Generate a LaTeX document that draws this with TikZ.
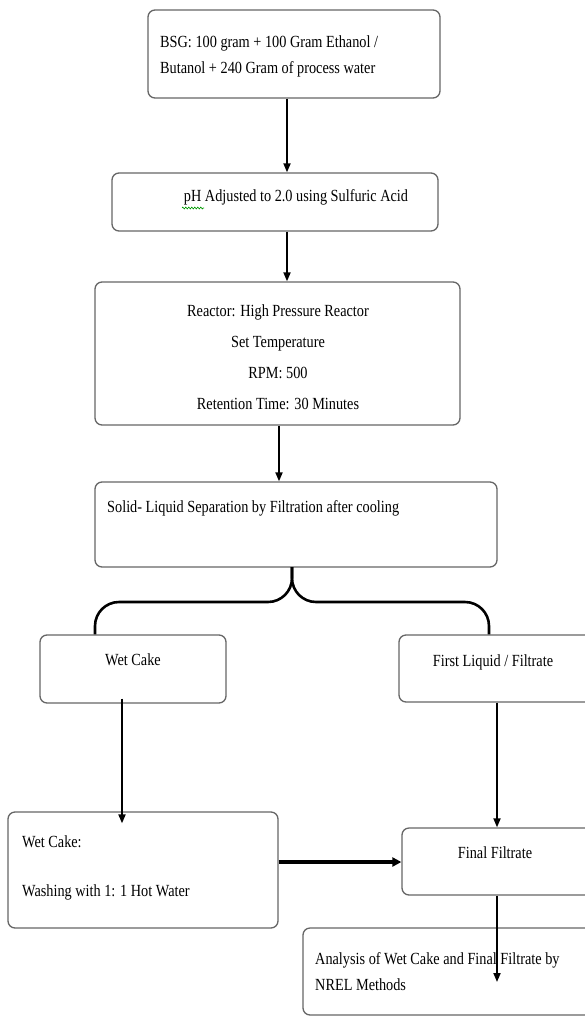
\documentclass[tikz,border=0pt]{standalone}
\usepackage{fontspec}
\setmainfont{Liberation Serif}[FakeStretch=0.84]
\usetikzlibrary{arrows.meta,decorations.pathmorphing}
\begin{document}
\begin{tikzpicture}[x=1pt,y=-1pt,
  box/.style={draw=black!60,line width=1.3pt,rounded corners=7pt,fill=white,inner sep=0pt},
  txt/.style={inner sep=0pt,font=\fontsize{17}{26}\selectfont,align=left},
  ctxt/.style={inner sep=0pt,font=\fontsize{17}{31}\selectfont,align=center},
  arr/.style={line width=1.8pt,-{Triangle[length=9pt,width=7pt]}},
  brace/.style={line width=2.6pt,rounded corners=24pt}
]
\useasboundingbox (0,0) rectangle (584,1017);
% boxes
\node[box,minimum width=292pt,minimum height=88pt] (b1) at (294,54) {};
\node[box,minimum width=326pt,minimum height=58pt] (b2) at (275,202) {};
\node[box,minimum width=365pt,minimum height=143pt] (b3) at (277.5,353.5) {};
\node[box,minimum width=402pt,minimum height=85pt] (b4) at (296,524.5) {};
\node[box,minimum width=186pt,minimum height=68pt] (b5) at (133,669) {};
\node[box,minimum width=193pt,minimum height=67pt] (b6) at (495.5,668.5) {};
\node[box,minimum width=270pt,minimum height=116pt] (b7) at (143,870) {};
\node[box,minimum width=190pt,minimum height=67pt] (b8) at (497,861.5) {};
\node[box,minimum width=289pt,minimum height=87pt] (b9) at (447.5,971.5) {};
% texts
\node[txt,anchor=west] (t1) at (160,56) {BSG: 100 gram + 100 Gram Ethanol /\\Butanol + 240 Gram of process water};
\node[txt] (t2) at (296,197) {pH Adjusted to 2.0 using Sulfuric Acid};
\node[ctxt] (t3) at (278,357) {Reactor: High Pressure Reactor\\Set Temperature\\RPM: 500\\Retention Time: 30 Minutes};
\node[txt,anchor=west] (t4) at (107,508) {Solid- Liquid Separation by Filtration after cooling};
\node[txt] (t5) at (133,660) {Wet Cake};
\node[txt] (t6) at (493,662) {First Liquid / Filtrate};
\node[txt,anchor=west] (t7a) at (22,842) {Wet Cake:};
\node[txt,anchor=west] (t7b) at (22,892) {Washing with 1: 1 Hot Water};
\node[txt] (t8) at (495,853) {Final Filtrate};
\node[txt,anchor=west] (t9) at (315,972) {Analysis of Wet Cake and Final Filtrate by\\NREL Methods};
% spell-check squiggle under pH
\coordinate (sq1) at (182,208);
\coordinate (sq2) at (204,208);
\draw[green!60!black,line width=0.6pt,decorate,decoration={zigzag,amplitude=1pt,segment length=3pt}] (sq1) -- (sq2);
% connectors
\draw[arr] (b1.south -| 287,0) -- (b2.north -| 287,0);
\draw[arr] (b2.south -| 287,0) -- (b3.north -| 287,0);
\draw[arr] (b3.south -| 279,0) -- (b4.north -| 279,0);
% brace
\coordinate (bt) at (292,567);
\draw[brace] (b5.north -| 95,0) -- (95,602) -- (292,602) -- (bt);
\draw[brace] (b6.north -| 489,0) -- (489,602) -- (292,602) -- (bt);
\draw[arr] ([yshift=5pt]b5.south -| 122,0) -- ([yshift=-12pt]b7.north -| 122,0);
\draw[arr] (b6.south -| 497,0) -- (b8.north -| 497,0);
\draw[line width=3.5pt,-{Triangle[length=9pt,width=9pt]}] (b7.east |- 0,862) -- (b8.west |- 0,862);
\draw[arr] (b8.south -| 497,0) -- (497,982);
\end{tikzpicture}
\end{document}
